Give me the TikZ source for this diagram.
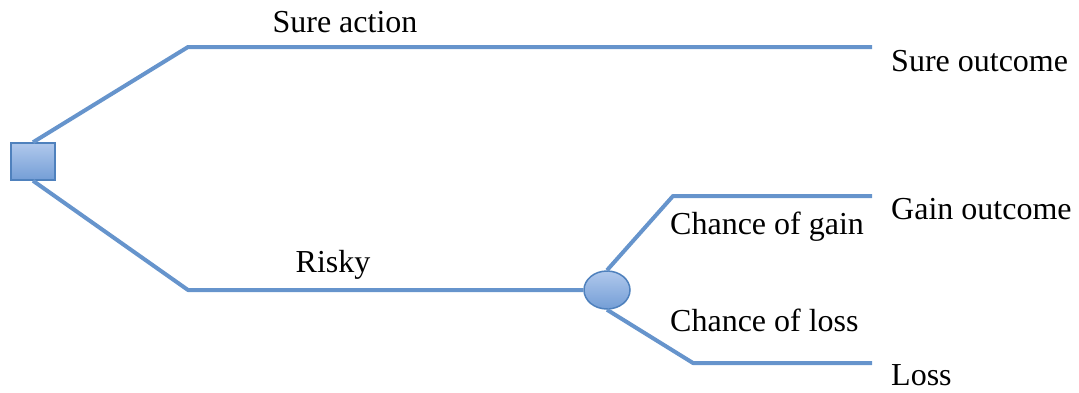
\documentclass[tikz,border=0pt]{standalone}
\usepackage{fontspec}
\setmainfont{Liberation Serif}
\usetikzlibrary{shapes.geometric}
\definecolor{branch}{RGB}{102,148,204}
\definecolor{edgeblue}{RGB}{79,129,189}
\definecolor{filltop}{RGB}{176,200,236}
\definecolor{fillbot}{RGB}{116,158,214}
\tikzset{
  x=1pt, y=-1pt,
  branchline/.style={draw=branch, line width=4pt, line cap=butt, line join=round},
  decision/.style={rectangle, draw=edgeblue, line width=1.5pt, top color=filltop, bottom color=fillbot,
    minimum width=44pt, minimum height=37pt, inner sep=0pt},
  chance/.style={ellipse, draw=edgeblue, line width=1.5pt, top color=filltop, bottom color=fillbot,
    minimum width=46pt, minimum height=38pt, inner sep=0pt},
  lbl/.style={font=\fontsize{32}{38}\selectfont, inner sep=0pt},
}
\begin{document}
\begin{tikzpicture}
\useasboundingbox (0,0) rectangle (1079,392);
% nodes
\node[decision] (d) at (33,161.5) {};
\node[chance] (c) at (607,290) {};
% branch points
\coordinate (s1) at (188,47);
\coordinate (s2) at (872,47);
\coordinate (r1) at (188,290);
\coordinate (g1) at (673,196);
\coordinate (g2) at (872,196);
\coordinate (l1) at (693,363);
\coordinate (l2) at (872,363);
% connectors
\draw[branchline] (d.north) -- (s1) -- (s2);
\draw[branchline] (d.south) -- (r1) -- (c.west);
\draw[branchline] (c.north) -- (g1) -- (g2);
\draw[branchline] (c.south) -- (l1) -- (l2);
% labels
\node[lbl] (t1) at (345,22) {Sure action};
\node[lbl, anchor=west] (t2) at (891,61) {Sure outcome};
\node[lbl] (t3) at (333,265) {Risky};
\node[lbl, anchor=west] (t4) at (891,209) {Gain outcome};
\node[lbl, anchor=west] (t5) at (670,227) {Chance of gain};
\node[lbl, anchor=west] (t6) at (670,320) {Chance of loss};
\node[lbl, anchor=west] (t7) at (891,375) {Loss};
\end{tikzpicture}
\end{document}
